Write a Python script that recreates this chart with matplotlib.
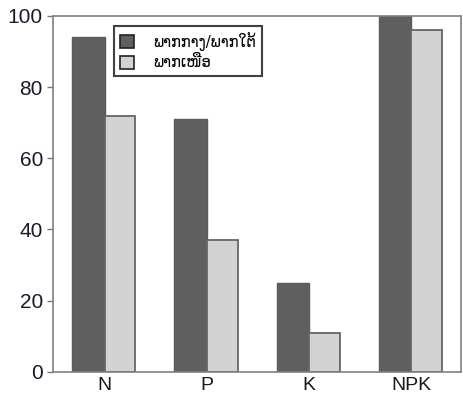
import matplotlib
matplotlib.use("Agg")
import matplotlib.pyplot as plt
import numpy as np

categories = ["N", "P", "K", "NPK"]
series_names = ["ພາກກາງ/ພາກໃຕ້", "ພາກເໜືອ"]
central_south = [94, 71, 25, 100]
north = [72, 37, 11, 96]
yticks = [0, 20, 40, 60, 80, 100]

plt.rcParams['font.family'] = ['Liberation Sans', 'DejaVu Sans']

fig = plt.figure(figsize=(4.64, 3.96), dpi=100)
ax = fig.add_axes([0.1136, 0.0614, 0.881, 0.8982])

x = np.arange(len(categories))
ax.bar(x - 0.32, central_south, width=0.32, align='edge', color='#5f5f5f',
       edgecolor='#5a5a5a', linewidth=1.0, label=series_names[0])
ax.bar(x, north, width=0.30, align='edge', color='#d3d3d3',
       edgecolor='#666666', linewidth=1.3, label=series_names[1])

ax.set_xlim(-0.51, 3.49)
ax.set_ylim(0, 100)
ax.set_yticks(yticks)
ax.set_yticklabels([str(v) for v in yticks], fontsize=15, color='#1a1a2a')
ax.set_xticks(x)
ax.set_xticklabels(categories, fontsize=14, color='#1a1a1a')
ax.tick_params(axis='x', length=0, pad=4)
ax.tick_params(axis='y', length=4, width=1, color='#777777', pad=3)
for s in ax.spines.values():
    s.set_color('#808080')
    s.set_linewidth(1.2)

leg = ax.legend(loc='upper left', bbox_to_anchor=(0.15, 0.972), frameon=True,
                fancybox=False, prop={'family': ['DejaVu Sans'], 'size': 10.5},
                handlelength=1.0, handleheight=1.0, borderpad=0.4,
                labelspacing=0.3, handletextpad=1.3, borderaxespad=0)
leg.get_frame().set_edgecolor('#111111')
leg.get_frame().set_linewidth(1.5)
for h in leg.legend_handles:
    h.set_edgecolor('#222222')
    h.set_linewidth(1.2)

fig.savefig("out.png", dpi=100)
